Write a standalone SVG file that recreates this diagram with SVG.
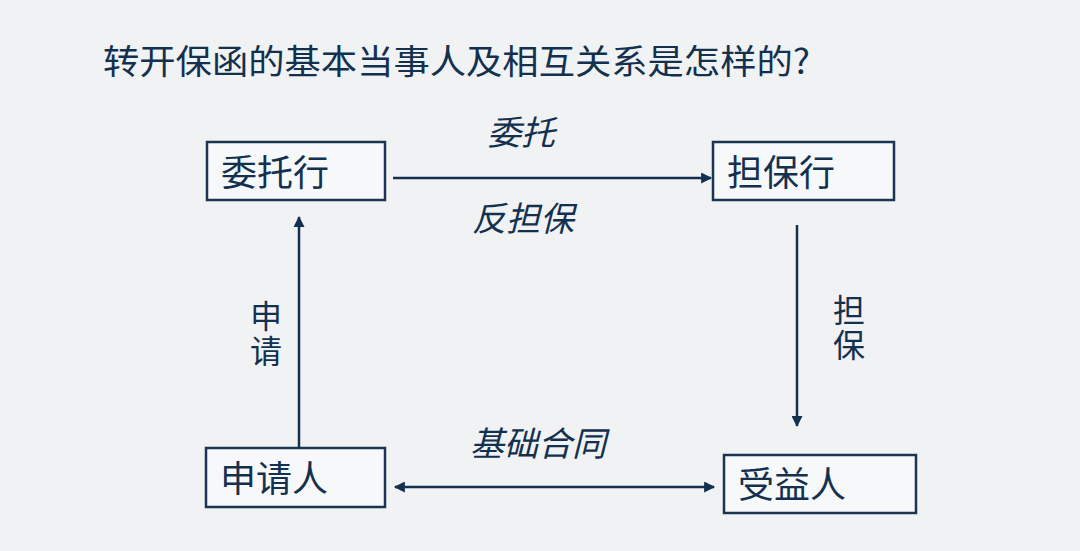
<svg xmlns="http://www.w3.org/2000/svg" width="1080" height="551" viewBox="0 0 1080 551">
<style>
text{font-family:"Noto Sans CJK SC","Noto Sans",sans-serif;fill:#14304f}
.node rect{fill:#f6f8fa;stroke:#1a3452;stroke-width:2.5}
.nt{font-size:36px}
.lbl{font-size:34px;font-style:italic}
.v{font-size:32px;writing-mode:tb;letter-spacing:3px}
.c{stroke:#14304f;stroke-width:2.5;fill:none}
</style>
<defs>
<marker id="ah" viewBox="0 0 10 10" refX="9" refY="5" markerWidth="12" markerHeight="11" orient="auto-start-reverse" markerUnits="userSpaceOnUse">
<path d="M0,0 L10,5 L0,10 z" fill="#14304f"/>
</marker>
</defs>
<rect width="1080" height="551" fill="#f0f2f3"/>
<text x="103" y="74" font-size="34" textLength="707" lengthAdjust="spacingAndGlyphs">转开保函的基本当事人及相互关系是怎样的?</text>
<g id="n1" class="node"><rect x="207" y="142" width="178" height="58"/><text class="nt" x="221" y="186">委托行</text></g>
<g id="n2" class="node"><rect x="713" y="142" width="181" height="58"/><text class="nt" x="727" y="186">担保行</text></g>
<g id="n3" class="node"><rect x="206" y="448" width="179" height="59"/><text class="nt" x="220" y="492">申请人</text></g>
<g id="n4" class="node"><rect x="724" y="455" width="192" height="58"/><text class="nt" x="738" y="498">受益人</text></g>
<g id="connectors">
<line class="c" x1="393" y1="178" x2="711" y2="178" marker-end="url(#ah)"/>
<line class="c" x1="797" y1="225" x2="797" y2="426" marker-end="url(#ah)"/>
<line class="c" x1="299" y1="448" x2="299" y2="217" marker-end="url(#ah)"/>
<line class="c" x1="395" y1="487" x2="714" y2="487" marker-start="url(#ah)" marker-end="url(#ah)"/>
</g>
<g id="labels">
<text class="lbl" x="487" y="145" font-size="32">委托</text>
<text class="lbl" x="472" y="231">反担保</text>
<text class="lbl" x="470" y="456">基础合同</text>
<text class="v" x="849" y="294">担保</text>
<text class="v" x="266" y="300">申请</text>
</g>
</svg>
